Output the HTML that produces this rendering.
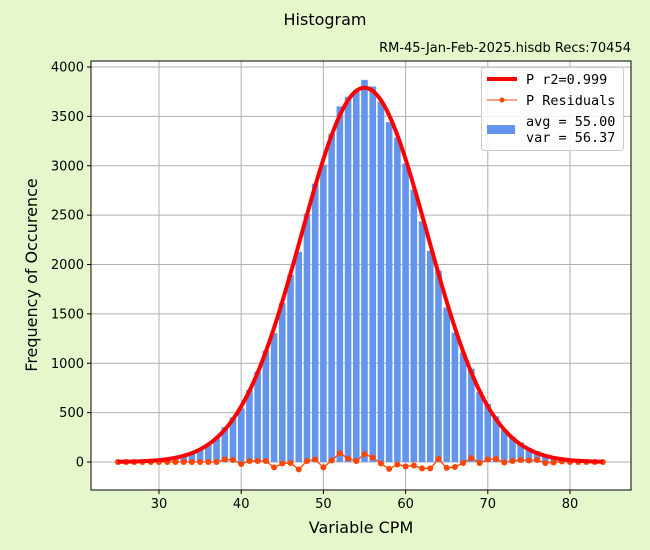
<!DOCTYPE html>
<html><head><meta charset="utf-8"><style>
body{margin:0;background:#e6f8cb;}
svg{display:block;font-family:"DejaVu Sans","Liberation Sans",sans-serif;}
</style></head><body>
<svg id="s" width="650" height="550" xmlns="http://www.w3.org/2000/svg">
<rect width="650" height="550" fill="#e6f8cb"/>
<text x="325" y="25" font-size="16" text-anchor="middle">Histogram</text>
<text x="631" y="52" font-size="13" text-anchor="end">RM-45-Jan-Feb-2025.hisdb  Recs:70454</text>
<rect x="91" y="61" width="540" height="429" fill="#fff"/>
<g id="grid" stroke="#b0b0b0" stroke-width="1"></g>
<g id="bars" fill="#6495ed"></g>
<g id="fit"></g>
<g id="ticks" font-size="13"></g>
<rect x="91" y="61" width="540" height="429" fill="none" stroke="#000" stroke-width="1"/>
<text x="361" y="533" font-size="16" text-anchor="middle">Variable CPM</text>
<text transform="translate(37,275) rotate(-90)" font-size="16" text-anchor="middle">Frequency of Occurence</text>
<g font-family="'DejaVu Sans Mono','Liberation Mono',monospace" font-size="13.5">
<rect x="481.5" y="67.5" width="142" height="83" rx="3" fill="#fff" fill-opacity="0.85" stroke="#ccc"/>
<line x1="487" y1="79" x2="517" y2="79" stroke="#f00" stroke-width="4"/>
<text x="526" y="84">P r2=0.999</text>
<line x1="487" y1="100" x2="517" y2="100" stroke="#ff4500" stroke-width="1"/>
<circle cx="502" cy="100" r="2.5" fill="#ff4500"/>
<text x="526" y="105">P Residuals</text>
<rect x="487" y="125" width="28" height="9" fill="#6495ed"/>
<text x="526" y="126">avg = 55.00</text>
<text x="526" y="142">var = 56.37</text>
</g>
</svg>
<script>
var NS="http://www.w3.org/2000/svg";
function X(v){return 159+(v-30)*8.22;}
function Y(v){return 462-v*0.09875;}
function el(t,a,p){var e=document.createElementNS(NS,t);for(var k in a)e.setAttribute(k,a[k]);document.getElementById(p).appendChild(e);return e;}
for(var x=30;x<=80;x+=10)el("line",{x1:X(x),y1:61,x2:X(x),y2:490},"grid");
for(var y=0;y<=4000;y+=500)el("line",{x1:91,y1:Y(y),x2:631,y2:Y(y)},"grid");
for(var x=30;x<=80;x+=10){el("line",{x1:X(x),y1:490,x2:X(x),y2:494,stroke:"#000"},"ticks");var t=el("text",{x:X(x),y:508,"text-anchor":"middle"},"ticks");t.textContent=x;}
for(var y=0;y<=4000;y+=500){el("line",{x1:87,y1:Y(y),x2:91,y2:Y(y),stroke:"#000"},"ticks");var t=el("text",{x:84,y:Y(y)+4.5,"text-anchor":"end"},"ticks");t.textContent=y;}
function f(x){return 3790*Math.exp(-(x-55)*(x-55)/(2*59));}
var res={38:25,39:20,40:-20,41:10,42:10,43:10,44:-55,45:-15,46:-10,47:-75,48:10,49:25,50:-55,51:15,52:90,53:35,54:10,55:80,56:45,57:-15,58:-70,59:-25,60:-45,61:-35,62:-65,63:-65,64:30,65:-60,66:-50,67:-10,68:40,69:-10,70:25,71:30,72:-5,73:10,74:20,75:15,76:20,77:-10,78:-5,79:5};
var pts=[],rp=[];
for(var i=25;i<=84;i++){var r=res[i]||0;var h=Math.max(0,f(i)+r);
 el("rect",{x:X(i)-3.3,y:Y(h),width:6.6,height:Y(0)-Y(h)},"bars");
 rp.push(X(i)+","+Y(r));}
for(var x=25;x<=84;x+=0.25)pts.push(X(x)+","+Y(f(x)));
el("polyline",{points:rp.join(" "),fill:"none",stroke:"#ff4500","stroke-width":1.3},"fit");
rp.forEach(function(p){var a=p.split(",");el("circle",{cx:a[0],cy:a[1],r:3,fill:"#ff4500"},"fit");});
el("polyline",{points:pts.join(" "),fill:"none",stroke:"#f00","stroke-width":4},"fit");
</script>
</body></html>
